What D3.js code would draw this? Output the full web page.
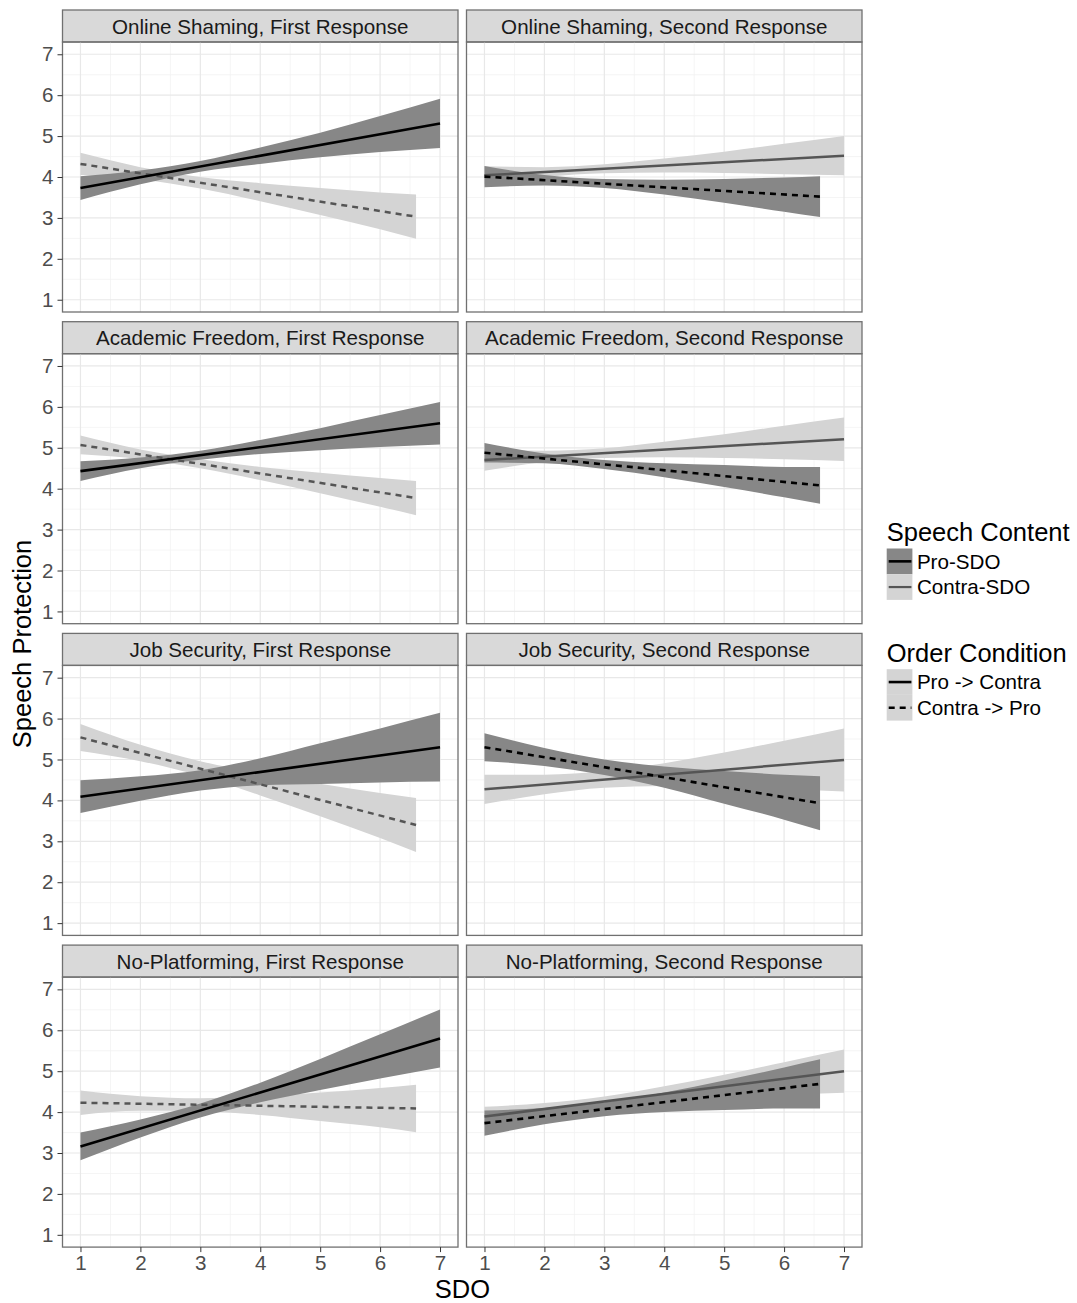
<!DOCTYPE html>
<html>
<head>
<meta charset="utf-8">
<script src="https://cdn.jsdelivr.net/npm/d3@7"></script>
<style>
  body { margin: 0; background: #fff; }
  svg { display: block; font-family: "Liberation Sans", Arial, sans-serif; }
</style>
</head>
<body>
<div id="chart"></div>
<script>
const width = 1077, height = 1303;

// x positions where the bands were read (dashed series stop at 6.6)
const sdoFull = [1, 2, 3, 4, 5, 6, 7];
const sdoShort = [1, 2, 3, 4, 5, 6, 6.6];
const ticks = [1, 2, 3, 4, 5, 6, 7];

const panelTitles = [
  "Online Shaming, First Response", "Online Shaming, Second Response",
  "Academic Freedom, First Response", "Academic Freedom, Second Response",
  "Job Security, First Response", "Job Security, Second Response",
  "No-Platforming, First Response", "No-Platforming, Second Response"
];

// rows: [fit, lower, upper]
// solid = Pro -> Contra, dashed = Contra -> Pro
const shamingFirstSolid = [[3.73, 3.44, 4.02], [3.99, 3.82, 4.16], [4.26, 4.13, 4.39], [4.52, 4.32, 4.72], [4.78, 4.48, 5.08], [5.05, 4.61, 5.49], [5.31, 4.71, 5.91]];
const shamingFirstDashed = [[4.32, 4.05, 4.59], [4.09, 3.94, 4.24], [3.86, 3.72, 4.00], [3.63, 3.41, 3.85], [3.40, 3.07, 3.73], [3.17, 2.72, 3.62], [3.03, 2.49, 3.57]];
const shamingSecondSolid = [[4.04, 3.82, 4.26], [4.12, 4.00, 4.24], [4.20, 4.09, 4.31], [4.28, 4.11, 4.45], [4.36, 4.10, 4.62], [4.44, 4.07, 4.81], [4.52, 4.04, 5.00]];
const shamingSecondDashed = [[4.01, 3.75, 4.27], [3.92, 3.79, 4.05], [3.84, 3.73, 3.95], [3.75, 3.57, 3.93], [3.66, 3.37, 3.95], [3.57, 3.15, 3.99], [3.52, 3.02, 4.02]];

const academicFirstSolid = [[4.43, 4.19, 4.67], [4.63, 4.50, 4.76], [4.82, 4.71, 4.93], [5.02, 4.85, 5.19], [5.21, 4.94, 5.48], [5.41, 5.02, 5.80], [5.60, 5.08, 6.12]];
const academicFirstDashed = [[5.07, 4.84, 5.30], [4.84, 4.72, 4.96], [4.61, 4.50, 4.72], [4.37, 4.21, 4.53], [4.14, 3.89, 4.39], [3.91, 3.56, 4.26], [3.77, 3.35, 4.19]];
const academicSecondSolid = [[4.70, 4.44, 4.96], [4.79, 4.65, 4.93], [4.87, 4.75, 4.99], [4.96, 4.77, 5.15], [5.04, 4.75, 5.33], [5.13, 4.72, 5.54], [5.21, 4.68, 5.74]];
const academicSecondDashed = [[4.88, 4.64, 5.12], [4.74, 4.62, 4.86], [4.59, 4.48, 4.70], [4.45, 4.28, 4.62], [4.31, 4.04, 4.58], [4.16, 3.79, 4.53], [4.08, 3.63, 4.53]];

const jobFirstSolid = [[4.09, 3.69, 4.49], [4.29, 3.99, 4.59], [4.49, 4.24, 4.74], [4.70, 4.37, 5.03], [4.90, 4.40, 5.40], [5.10, 4.44, 5.76], [5.30, 4.46, 6.14]];
const jobFirstDashed = [[5.54, 5.21, 5.87], [5.16, 4.96, 5.36], [4.78, 4.60, 4.96], [4.39, 4.12, 4.66], [4.01, 3.61, 4.41], [3.63, 3.08, 4.18], [3.40, 2.74, 4.06]];
const jobSecondSolid = [[4.27, 3.91, 4.63], [4.39, 4.15, 4.63], [4.51, 4.31, 4.71], [4.63, 4.35, 4.91], [4.75, 4.33, 5.17], [4.87, 4.28, 5.46], [4.99, 4.22, 5.76]];
const jobSecondDashed = [[5.30, 4.96, 5.64], [5.06, 4.84, 5.28], [4.81, 4.62, 5.00], [4.57, 4.31, 4.83], [4.32, 3.92, 4.72], [4.08, 3.53, 4.63], [3.93, 3.27, 4.59]];

const platformFirstSolid = [[3.16, 2.82, 3.50], [3.60, 3.38, 3.82], [4.04, 3.87, 4.21], [4.48, 4.24, 4.72], [4.92, 4.54, 5.30], [5.36, 4.82, 5.90], [5.80, 5.09, 6.51]];
const platformFirstDashed = [[4.23, 3.93, 4.53], [4.21, 4.03, 4.39], [4.18, 4.02, 4.34], [4.16, 3.93, 4.39], [4.13, 3.78, 4.48], [4.11, 3.63, 4.59], [4.09, 3.51, 4.67]];
const platformSecondSolid = [[3.89, 3.65, 4.13], [4.08, 3.94, 4.22], [4.26, 4.14, 4.38], [4.45, 4.27, 4.63], [4.63, 4.35, 4.91], [4.82, 4.42, 5.22], [5.00, 4.47, 5.53]];
const platformSecondDashed = [[3.73, 3.42, 4.04], [3.90, 3.70, 4.10], [4.07, 3.90, 4.24], [4.24, 4.00, 4.48], [4.41, 4.05, 4.77], [4.59, 4.09, 5.09], [4.69, 4.09, 5.29]];

const panelSeries = [
  [shamingFirstSolid, shamingFirstDashed], [shamingSecondSolid, shamingSecondDashed],
  [academicFirstSolid, academicFirstDashed], [academicSecondSolid, academicSecondDashed],
  [jobFirstSolid, jobFirstDashed], [jobSecondSolid, jobSecondDashed],
  [platformFirstSolid, platformFirstDashed], [platformSecondSolid, platformSecondDashed]
];

const contentLabels = ["Pro-SDO", "Contra-SDO"];
const orderLabels = ["Pro -> Contra", "Contra -> Pro"];

const darkFill = "#878787", lightFill = "#d4d4d4";
const proLine = "#000000", contraLine = "#555555";
const borderCol = "#707070";
const dashPat = "6,5";

const colX = [62.5, 466.5];
const panelW = 395.5, panelH = 270, stripH = 32;
const rowTop = 42, rowStep = 311.7;

const svg = d3.select("#chart").append("svg")
  .attr("width", width).attr("height", height);

const x = d3.scaleLinear().domain([0.7, 7.3]).range([0, panelW]);
const y = d3.scaleLinear().domain([0.7, 7.3]).range([panelH, 0]);
const minor = [1.5, 2.5, 3.5, 4.5, 5.5, 6.5];

const area = d3.area()
  .x(d => x(d.x)).y0(d => y(d.lo)).y1(d => y(d.hi))
  .curve(d3.curveMonotoneX);
const line = d3.line().x(d => x(d.x)).y(d => y(d.fit));

function rows(arr, xs) {
  return arr.map((r, i) => ({ x: xs[i], fit: r[0], lo: r[1], hi: r[2] }));
}

panelTitles.forEach((title, p) => {
  const col = p % 2, row = Math.floor(p / 2);
  const top = rowTop + row * rowStep;
  const g = svg.append("g").attr("transform", `translate(${colX[col]},${top})`);

  // strip
  g.append("rect").attr("x", 0).attr("y", -stripH).attr("width", panelW).attr("height", stripH)
    .attr("fill", "#d9d9d9").attr("stroke", borderCol).attr("stroke-width", 1.3);
  g.append("text").attr("x", panelW / 2).attr("y", -stripH / 2 + 7.5)
    .attr("text-anchor", "middle").attr("font-size", 20.6).attr("fill", "#1a1a1a")
    .text(title);

  // grid
  g.selectAll(".mx").data(minor).enter().append("line")
    .attr("x1", d => x(d)).attr("x2", d => x(d)).attr("y1", 0).attr("y2", panelH)
    .attr("stroke", "#f2f2f2").attr("stroke-width", 0.8);
  g.selectAll(".my").data(minor).enter().append("line")
    .attr("y1", d => y(d)).attr("y2", d => y(d)).attr("x1", 0).attr("x2", panelW)
    .attr("stroke", "#f2f2f2").attr("stroke-width", 0.8);
  g.selectAll(".gx").data(ticks).enter().append("line")
    .attr("x1", d => x(d)).attr("x2", d => x(d)).attr("y1", 0).attr("y2", panelH)
    .attr("stroke", "#e8e8e8").attr("stroke-width", 1.2);
  g.selectAll(".gy").data(ticks).enter().append("line")
    .attr("y1", d => y(d)).attr("y2", d => y(d)).attr("x1", 0).attr("x2", panelW)
    .attr("stroke", "#e8e8e8").attr("stroke-width", 1.2);

  const solid = rows(panelSeries[p][0], sdoFull);
  const dashed = rows(panelSeries[p][1], sdoShort);
  // first response: solid is Pro-SDO; second response: dashed is Pro-SDO
  const pro = col === 0 ? { d: solid, dash: null } : { d: dashed, dash: dashPat };
  const contra = col === 0 ? { d: dashed, dash: dashPat } : { d: solid, dash: null };

  g.append("path").attr("d", area(contra.d)).attr("fill", lightFill);
  g.append("path").attr("d", area(pro.d)).attr("fill", darkFill);
  g.append("path").attr("d", line([contra.d[0], contra.d[contra.d.length - 1]]))
    .attr("fill", "none").attr("stroke", contraLine).attr("stroke-width", 2.5)
    .attr("stroke-dasharray", contra.dash);
  g.append("path").attr("d", line([pro.d[0], pro.d[pro.d.length - 1]]))
    .attr("fill", "none").attr("stroke", proLine).attr("stroke-width", 2.6)
    .attr("stroke-dasharray", pro.dash);

  g.append("rect").attr("width", panelW).attr("height", panelH)
    .attr("fill", "none").attr("stroke", borderCol).attr("stroke-width", 1.3);

  if (col === 0) {
    const ya = g.append("g").call(d3.axisLeft(y).tickValues(ticks)
      .tickFormat(d3.format("d")).tickSize(5).tickPadding(4));
    ya.select(".domain").remove();
    ya.selectAll("line").attr("stroke", "#333");
    ya.selectAll("text").attr("font-size", 20.6).attr("fill", "#4d4d4d")
      .attr("font-family", "Liberation Sans, Arial, sans-serif");
  }
  if (row === 3) {
    const xa = g.append("g").attr("transform", `translate(0,${panelH})`)
      .call(d3.axisBottom(x).tickValues(ticks).tickFormat(d3.format("d"))
        .tickSize(5).tickPadding(3));
    xa.select(".domain").remove();
    xa.selectAll("line").attr("stroke", "#333");
    xa.selectAll("text").attr("font-size", 20.6).attr("fill", "#4d4d4d")
      .attr("font-family", "Liberation Sans, Arial, sans-serif");
  }
});

// axis titles
svg.append("text").attr("x", 462.5).attr("y", 1298).attr("text-anchor", "middle")
  .attr("font-size", 25.5).attr("fill", "#000").text("SDO");
svg.append("text").attr("transform", "translate(31,644) rotate(-90)")
  .attr("text-anchor", "middle").attr("font-size", 25.5).attr("fill", "#000")
  .text("Speech Protection");

// legends
const lx = 886.7, keyS = 25.7;
function legend(top, title, labels, fills, strokes, widths, dashes) {
  const g = svg.append("g").attr("transform", `translate(${lx},${top})`);
  g.append("text").attr("x", 0).attr("y", 0).attr("font-size", 25.5).attr("fill", "#000").text(title);
  labels.forEach((lab, i) => {
    const ky = 7.5 + i * keyS;
    g.append("rect").attr("x", 0).attr("y", ky).attr("width", keyS).attr("height", keyS)
      .attr("fill", fills[i]);
    g.append("line").attr("x1", 2).attr("x2", keyS - 1).attr("y1", ky + keyS / 2).attr("y2", ky + keyS / 2)
      .attr("stroke", strokes[i]).attr("stroke-width", widths[i]).attr("stroke-dasharray", dashes[i]);
    g.append("text").attr("x", keyS + 4.5).attr("y", ky + keyS / 2 + 7.4)
      .attr("font-size", 20.6).attr("fill", "#000").text(lab);
  });
}
legend(541, "Speech Content", contentLabels, [darkFill, lightFill], [proLine, contraLine], [2.6, 2.2], [null, null]);
legend(661.7, "Order Condition", orderLabels, [lightFill, lightFill], [proLine, proLine], [2.6, 2.6], [null, dashPat]);
</script>
</body>
</html>
